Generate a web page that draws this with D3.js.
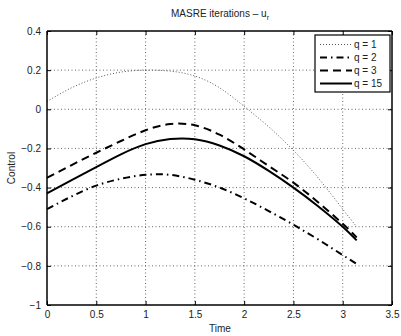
<!DOCTYPE html>
<html><head><meta charset="utf-8">
<script src="https://cdn.jsdelivr.net/npm/d3@7"></script>
<style>
body{margin:0;background:#fff;}
svg{display:block;font-family:"Liberation Sans",Arial,Helvetica,sans-serif;}
</style></head>
<body><svg id="c" width="401" height="336"></svg>
<script>
const times = [0, 0.25, 0.5, 0.75, 1.0, 1.25, 1.5, 1.75, 2.0, 2.25, 2.5, 2.75, 3.0, 3.1416];
const q1  = [0.04, 0.11, 0.16, 0.19, 0.20, 0.195, 0.17, 0.11, 0.015, -0.09, -0.21, -0.35, -0.51, -0.60];
const q2  = [-0.51, -0.445, -0.39, -0.355, -0.335, -0.335, -0.36, -0.40, -0.455, -0.52, -0.59, -0.665, -0.745, -0.79];
const q3  = [-0.35, -0.285, -0.222, -0.162, -0.107, -0.075, -0.082, -0.13, -0.205, -0.29, -0.375, -0.475, -0.585, -0.655];
const q15 = [-0.43, -0.362, -0.295, -0.23, -0.178, -0.152, -0.153, -0.185, -0.24, -0.315, -0.40, -0.495, -0.60, -0.67];
const seriesNames = ["q = 1", "q = 2", "q = 3", "q = 15"];
const xTicks = [0, 0.5, 1, 1.5, 2, 2.5, 3, 3.5];
const yTicks = [0.4, 0.2, 0, -0.2, -0.4, -0.6, -0.8, -1];

const styles = [
  {w: 1, dash: "1,2", color: "#555"},
  {w: 2, dash: "7,4,1.5,4", color: "#000"},
  {w: 2, dash: "8,5", color: "#000"},
  {w: 2, dash: null, color: "#000"}
];
const allSeries = [q1, q2, q3, q15];

const svg = d3.select("#c");
const L = 47, R = 392, T = 31, B = 305;
const x = d3.scaleLinear().domain([0, 3.5]).range([L, R]);
const y = d3.scaleLinear().domain([-1, 0.4]).range([B, T]);
const fmt = d => d === 0 ? "0" : (d < 0 ? "\u2212" + Math.abs(d) : String(d));

// grid
const g = svg.append("g");
xTicks.slice(1, -1).forEach(t => {
  g.append("line").attr("x1", x(t)).attr("x2", x(t)).attr("y1", T).attr("y2", B)
    .attr("stroke", "#444").attr("stroke-width", 0.8).attr("stroke-dasharray", "1,2.5");
});
yTicks.slice(1, -1).forEach(t => {
  g.append("line").attr("x1", L).attr("x2", R).attr("y1", y(t)).attr("y2", y(t))
    .attr("stroke", "#444").attr("stroke-width", 0.8).attr("stroke-dasharray", "1,2.5");
});

// lines
const line = d3.line().x((d, i) => x(times[i])).y(d => y(d)).curve(d3.curveNatural);
allSeries.forEach((s, k) => {
  svg.append("path").datum(s).attr("d", line).attr("fill", "none")
    .attr("stroke", styles[k].color).attr("stroke-width", styles[k].w)
    .attr("stroke-dasharray", styles[k].dash);
});

// axes (inward ticks)
const ax = svg.append("g").attr("transform", `translate(0,${B})`)
  .call(d3.axisBottom(x).tickValues(xTicks).tickSize(-4).tickPadding(6).tickFormat(fmt));
const axT = svg.append("g").attr("transform", `translate(0,${T})`)
  .call(d3.axisTop(x).tickValues(xTicks).tickSize(-4).tickFormat(""));
const ay = svg.append("g").attr("transform", `translate(${L},0)`)
  .call(d3.axisLeft(y).tickValues(yTicks).tickSize(-4).tickPadding(6).tickFormat(fmt));
const ayR = svg.append("g").attr("transform", `translate(${R},0)`)
  .call(d3.axisRight(y).tickValues(yTicks).tickSize(-4).tickFormat(""));
[ax, axT, ay, ayR].forEach(a => {
  a.select(".domain").attr("stroke", "#000").attr("stroke-width", 1.5);
  a.selectAll(".tick line").attr("stroke", "#000").attr("stroke-width", 1);
  a.selectAll("text").attr("font-size", 10).attr("fill", "#222")
    .attr("font-family", "Liberation Sans, Arial, sans-serif");
});
ax.selectAll(".domain").attr("d", `M${L},0H${R}`);
axT.selectAll(".domain").attr("d", `M${L},0H${R}`);
ay.selectAll(".domain").attr("d", `M0,${T}V${B}`);
ayR.selectAll(".domain").attr("d", `M0,${T}V${B}`);

// title & labels
const title = svg.append("text").attr("x", 220).attr("y", 17).attr("text-anchor", "middle")
  .attr("font-size", 10).attr("fill", "#222");
title.append("tspan").text("MASRE iterations \u2013 u");
title.append("tspan").attr("font-size", 7).attr("dy", 3).text("r");
svg.append("text").attr("x", 220).attr("y", 332).attr("text-anchor", "middle")
  .attr("font-size", 10).attr("fill", "#222").text("Time");
svg.append("text").attr("transform", "translate(15,168) rotate(-90)").attr("text-anchor", "middle")
  .attr("font-size", 10).attr("fill", "#222").text("Control");

// legend
const lg = svg.append("g");
lg.append("rect").attr("x", 315).attr("y", 35).attr("width", 75).attr("height", 57)
  .attr("fill", "#fff").attr("stroke", "#000").attr("stroke-width", 1.2);
seriesNames.forEach((n, k) => {
  const yy = 44.5 + k * 13;
  lg.append("line").attr("x1", 320).attr("x2", 352).attr("y1", yy).attr("y2", yy)
    .attr("stroke", styles[k].color).attr("stroke-width", styles[k].w)
    .attr("stroke-dasharray", styles[k].dash);
  lg.append("text").attr("x", 354).attr("y", yy + 3.5).attr("font-size", 10)
    .attr("fill", "#222").text(n);
});
</script></body></html>
